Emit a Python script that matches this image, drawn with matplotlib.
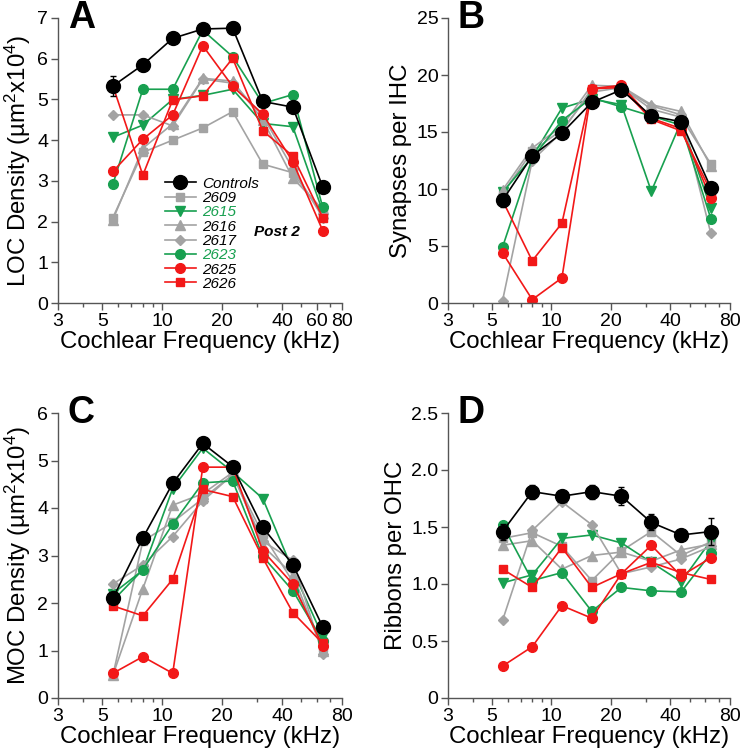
import matplotlib
matplotlib.use("Agg")
import matplotlib.pyplot as plt
from matplotlib.lines import Line2D
from matplotlib.ticker import FixedLocator, NullFormatter

plt.rcParams['font.family'] = ['Liberation Sans', 'DejaVu Sans']
plt.rcParams['mathtext.fontset'] = 'custom'
plt.rcParams['mathtext.rm'] = 'Liberation Sans'
plt.rcParams['mathtext.it'] = 'Liberation Sans:italic'

freqs = [5.66, 8.0, 11.3, 16.0, 22.6, 32.0, 45.3, 64.0]

# Panel A: LOC density
A_controls = [5.33, 5.85, 6.50, 6.73, 6.75, 4.95, 4.81, 2.85]
A_controls_err = [0.25, 0.15, 0.12, 0.07, 0.15, 0.06, 0.05, 0.06]
A_2609 = [2.10, 3.70, 4.00, 4.30, 4.70, 3.41, 3.20, 2.20]
A_2615 = [4.07, 4.37, 5.00, 5.10, 5.25, 4.41, 4.33, 2.25]
A_2616 = [2.05, 3.80, 4.40, 5.52, 5.45, 4.50, 3.07, 2.30]
A_2617 = [4.62, 4.62, 4.35, 5.50, 5.40, 4.60, 3.30, 2.10]
A_2623 = [2.92, 5.25, 5.25, 6.70, 6.05, 4.90, 5.12, 2.35]
A_2625 = [3.23, 4.02, 4.62, 6.32, 5.32, 4.64, 3.47, 1.78]
A_2626 = [5.33, 3.14, 4.99, 5.09, 6.01, 4.23, 3.61, 2.10]

# Panel B: synapses per IHC
B_controls = [9.0, 12.9, 14.9, 17.6, 18.7, 16.4, 15.9, 10.1]
B_controls_err = [0.6, 0.3, 0.3, 0.3, 0.3, 0.3, 0.3, 0.3]
B_2609 = [9.6, 13.3, 15.2, 18.5, 18.9, 17.0, 16.3, 12.2]
B_2615 = [9.7, 12.8, 17.1, 17.9, 17.4, 9.8, 15.9, 8.3]
B_2616 = [9.9, 13.6, 15.5, 19.1, 19.0, 17.4, 16.8, 12.0]
B_2617 = [0.2, 12.5, 15.0, 18.8, 18.9, 17.3, 16.5, 6.1]
B_2623 = [4.9, 12.7, 16.0, 18.0, 17.2, 16.4, 15.6, 7.4]
B_2625 = [4.4, 0.3, 2.2, 18.8, 19.1, 16.2, 15.3, 9.2]
B_2626 = [9.0, 3.7, 7.0, 18.8, 18.9, 16.1, 15.1, 9.8]

# Panel C: MOC density
C_controls = [2.10, 3.37, 4.52, 5.36, 4.87, 3.59, 2.81, 1.50]
C_controls_err = [0.10, 0.08, 0.08, 0.08, 0.08, 0.08, 0.08, 0.08]
C_2609 = [0.48, 3.30, 3.70, 4.20, 4.70, 3.45, 2.45, 1.05]
C_2615 = [2.20, 2.69, 4.41, 5.26, 4.76, 4.20, 2.69, 1.30]
C_2616 = [0.48, 2.30, 4.06, 4.30, 4.75, 3.20, 2.60, 1.00]
C_2617 = [2.40, 2.80, 3.40, 4.15, 4.70, 3.30, 2.90, 0.92]
C_2623 = [2.05, 2.70, 3.66, 4.53, 4.57, 2.98, 2.26, 1.20]
C_2625 = [0.52, 0.87, 0.52, 4.86, 4.86, 3.10, 2.40, 1.10]
C_2626 = [1.94, 1.73, 2.50, 4.39, 4.24, 2.95, 1.80, 1.15]

# Panel D: ribbons per OHC
D_controls = [1.46, 1.81, 1.77, 1.81, 1.77, 1.54, 1.43, 1.46]
D_controls_err = [0.07, 0.06, 0.05, 0.06, 0.08, 0.07, 0.04, 0.12]
D_2609 = [1.40, 1.45, 1.33, 1.03, 1.29, 1.46, 1.25, 1.37]
D_2615 = [1.01, 1.08, 1.40, 1.43, 1.36, 1.19, 1.02, 1.38]
D_2616 = [1.34, 1.38, 1.13, 1.25, 1.28, 1.20, 1.30, 1.35]
D_2617 = [0.68, 1.47, 1.72, 1.52, 1.09, 1.15, 1.22, 1.33]
D_2623 = [1.52, 1.03, 1.10, 0.76, 0.97, 0.94, 0.93, 1.27]
D_2625 = [0.28, 0.45, 0.81, 0.70, 1.09, 1.34, 1.07, 1.23]
D_2626 = [1.13, 0.97, 1.32, 0.97, 1.09, 1.19, 1.10, 1.04]

ids = ['2609', '2615', '2616', '2617', '2623', '2625', '2626']
GRAY = '#a3a3a3'
GREEN = '#18a050'
RED = '#f21818'
styles = {
    '2609': dict(color=GRAY, marker='s', ms=6),
    '2615': dict(color=GREEN, marker='v', ms=7.5),
    '2616': dict(color=GRAY, marker='^', ms=7),
    '2617': dict(color=GRAY, marker='D', ms=5.5),
    '2623': dict(color=GREEN, marker='o', ms=7),
    '2625': dict(color=RED, marker='o', ms=7),
    '2626': dict(color=RED, marker='s', ms=6),
}
label_colors = {'2615': GREEN, '2623': GREEN}

panels = [
    dict(data=[A_2609, A_2615, A_2616, A_2617, A_2623, A_2625, A_2626], ctrl=A_controls, err=A_controls_err,
         ylim=(0, 7), yticks=[0, 1, 2, 3, 4, 5, 6, 7], ylab='LOC Density (µm$^2$x10$^4$)', letter='A',
         pos=[58/745, 1-303/750, 284/745, 285/750], xticks=[3, 5, 10, 20, 40, 60, 80], ylabfmt=None),
    dict(data=[B_2609, B_2615, B_2616, B_2617, B_2623, B_2625, B_2626], ctrl=B_controls, err=B_controls_err,
         ylim=(0, 25), yticks=[0, 5, 10, 15, 20, 25], ylab='Synapses per IHC', letter='B',
         pos=[448/745, 1-303/750, 282/745, 285/750], xticks=[3, 5, 10, 20, 40, 80], ylabfmt=None),
    dict(data=[C_2609, C_2615, C_2616, C_2617, C_2623, C_2625, C_2626], ctrl=C_controls, err=C_controls_err,
         ylim=(0, 6), yticks=[0, 1, 2, 3, 4, 5, 6], ylab='MOC Density (µm$^2$x10$^4$)', letter='C',
         pos=[58/745, 1-698/750, 284/745, 285/750], xticks=[3, 5, 10, 20, 40, 80], ylabfmt=None),
    dict(data=[D_2609, D_2615, D_2616, D_2617, D_2623, D_2625, D_2626], ctrl=D_controls, err=D_controls_err,
         ylim=(0, 2.5), yticks=[0, 0.5, 1.0, 1.5, 2.0, 2.5], ylab='Ribbons per OHC', letter='D',
         pos=[448/745, 1-698/750, 282/745, 285/750], xticks=[3, 5, 10, 20, 40, 80],
         ylabfmt=['0', '0.5', '1.0', '1.5', '2.0', '2.5']),
]

fig = plt.figure(figsize=(7.45, 7.5), dpi=100)
for p in panels:
    ax = fig.add_axes(p['pos'])
    for sid, ys in zip(ids, p['data']):
        st = styles[sid]
        ax.plot(freqs, ys, color=st['color'], marker=st['marker'], ms=st['ms'], lw=1.2,
                mec=st['color'], zorder=2)
    ax.errorbar(freqs, p['ctrl'], yerr=p['err'], color='black', marker='o', ms=10, lw=1.2,
                capsize=2, elinewidth=1, zorder=5)
    ax.set_xscale('log')
    ax.set_xlim(3, 80)
    ax.set_ylim(*p['ylim'])
    ax.xaxis.set_major_locator(FixedLocator(p['xticks']))
    ax.set_xticklabels([str(t) for t in p['xticks']])
    ax.xaxis.set_minor_locator(FixedLocator([4, 6, 7, 8, 9, 30, 50, 60, 70]))
    ax.xaxis.set_minor_formatter(NullFormatter())
    ax.set_yticks(p['yticks'])
    if p['ylabfmt']:
        ax.set_yticklabels(p['ylabfmt'])
    else:
        ax.set_yticklabels([str(t) for t in p['yticks']])
    for s in ['top', 'right']:
        ax.spines[s].set_visible(False)
    for s in ['left', 'bottom']:
        ax.spines[s].set_color('#555555')
        ax.spines[s].set_linewidth(1.0)
    ax.tick_params(axis='both', which='major', direction='out', length=5, width=1,
                   color='#555555', labelsize=14, pad=2)
    ax.tick_params(axis='x', which='minor', direction='out', length=3, width=1, color='#555555')
    ax.set_xlabel('Cochlear Frequency (kHz)', fontsize=17.3, labelpad=1)
    ax.set_ylabel(p['ylab'], fontsize=17.3, labelpad=3)
    ax.text(0.035, 1.0, p['letter'], transform=ax.transAxes, fontsize=27, fontweight='bold',
            ha='left', va='center')
    p['ax'] = ax

axA = panels[0]['ax']
handles = [Line2D([], [], color='black', marker='o', ms=10, lw=1.2)]
labels = ['Controls']
for sid in ids:
    st = styles[sid]
    handles.append(Line2D([], [], color=st['color'], marker=st['marker'], ms=st['ms'], lw=1.2))
    labels.append(sid)
leg = axA.legend(handles, labels, loc='upper left', bbox_to_anchor=(0.35, 0.47), frameon=False,
                 prop={'style': 'italic', 'size': 11}, handlelength=2.0, labelspacing=0.02,
                 handletextpad=0.4, borderpad=0)
for txt, lab in zip(leg.get_texts(), labels):
    txt.set_color(label_colors.get(lab, 'black'))
axA.text(0.69, 0.25, 'Post 2', transform=axA.transAxes, fontsize=11, fontweight='bold',
         style='italic', ha='left', va='center')

fig.savefig('out.png', dpi=100)
